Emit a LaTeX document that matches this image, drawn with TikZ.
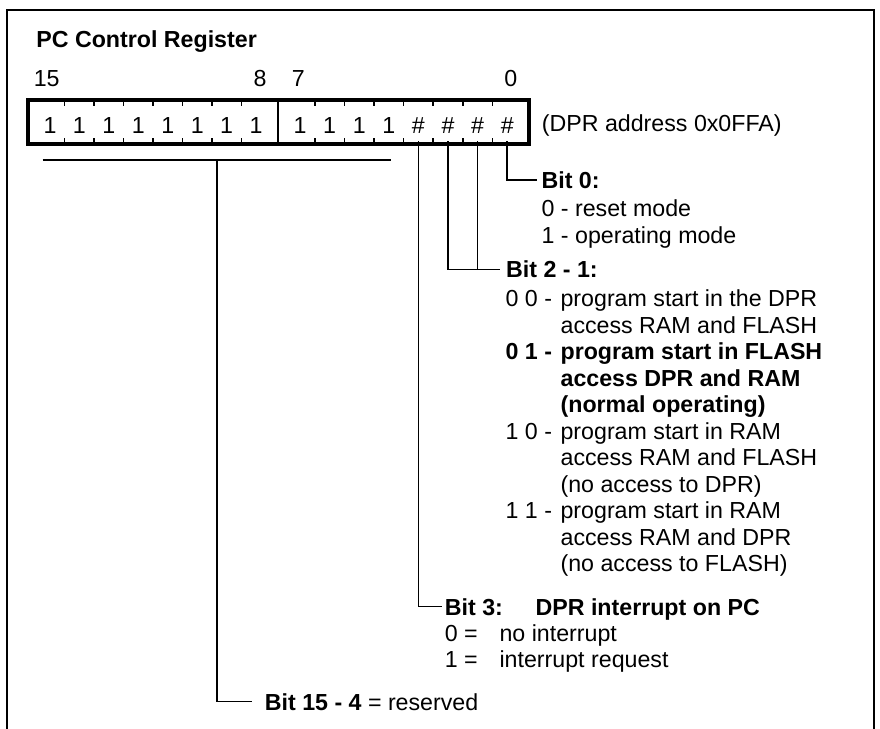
\documentclass[tikz,border=0pt]{standalone}
\usepackage{fontspec}
\setmainfont{Liberation Sans}
\usetikzlibrary{calc,fit}
\newcommand\regfont{\fontsize{11.6pt}{13.25pt}\selectfont}

\begin{document}
\begin{tikzpicture}[x=0.5pt, y=-0.5pt, font=\regfont,
    frameline/.style={line width=1pt},
    regbox/.style={draw, line width=2pt, inner xsep=3.3pt, inner ysep=1.1pt},
    bitcell/.style={inner sep=0pt, minimum width=14.75pt, minimum height=19pt, text height=12pt, text depth=1pt},
    bitnum/.style={inner sep=0pt},
    tick/.style={line width=0.75pt},
    leader/.style={line width=0.75pt},
    head/.style={inner sep=0pt, anchor=base west, font=\regfont\bfseries},
    note/.style={inner sep=0pt, anchor=base west}]

    % Fix the canvas
    \useasboundingbox (0,0) rectangle (880,729);

    % Draw open frame
    \draw[frameline] (7.3,729) -- (7.3,10) -- (874,10) -- (874,729);

    % Title
    \node[head] (title) at (36,47) {PC Control Register};

    % Register cells, bit 15 on the left
    \foreach \b in {15,...,8}
        \node[bitcell] (c\b) at ({50+29.45*(15-\b)},122) {1};
    \foreach \b in {7,...,4}
        \node[bitcell] (c\b) at ({300+29.6*(7-\b)},122) {1};
    \foreach \b in {3,...,0}
        \node[bitcell] (c\b) at ({300+29.6*(7-\b)},122) {\#};
    \node[regbox, fit=(c15)(c0)] (reg) {};

    % Ticks between the cells
    \foreach \b/\n in {15/14,14/13,13/12,12/11,11/10,10/9,9/8,7/6,6/5,5/4,4/3,3/2,2/1,1/0} {
        \coordinate (t) at ($(c\b)!0.5!(c\n)$);
        \draw[tick] (t |- reg.north) -- ++(0,8);
        \draw[tick] (t |- reg.south) -- ++(0,-8);
    }
    \coordinate (mid) at ($(c8)!0.5!(c7)$);
    \draw[tick] (mid |- reg.north) -- (mid |- reg.south);

    % Bit numbers and address
    \node[bitnum] (n15) at (46.7,78.3) {15};
    \node[bitnum] (n8) at (260,78.3) {8};
    \node[bitnum] (n7) at (298.3,78.3) {7};
    \node[bitnum] (n0) at (510.7,78.3) {0};
    \node[note] (addr) at (541.5,131.6) {(DPR address 0x0FFA)};

    % Bit 0
    \node[head] (b0) at (541.2,188.3) {Bit 0:};
    \node[note] (b0txt) at (541.2,216.6) {%
        \begin{tabular}[t]{@{}l@{}}
        0 - reset mode\\
        1 - operating mode
        \end{tabular}};
    \draw[leader, shorten >=2.25pt] (c0.south) |- (b0.west);

    % Bit 2 - 1
    \node[head] (b21) at (505.8,277.6) {Bit 2 - 1:};
    \node[note] (b21txt) at (505.2,306.6) {%
        \begin{tabular}[t]{@{}p{27.5pt}@{}l@{}}
        0 0 - & program start in the DPR\\
              & access RAM and FLASH\\
        \textbf{0 1 -} & \textbf{program start in FLASH}\\
              & \textbf{access DPR and RAM}\\
              & \textbf{(normal operating)}\\
        1 0 - & program start in RAM\\
              & access RAM and FLASH\\
              & (no access to DPR)\\
        1 1 - & program start in RAM\\
              & access RAM and DPR\\
              & (no access to FLASH)
        \end{tabular}};
    \draw[leader, shorten >=2.9pt] (c2.south) |- (b21.west);
    \draw[leader, shorten >=2.9pt] (c1.south) |- (b21.west);

    % Bit 3
    \node[head] (b3) at (444.5,615) {Bit 3:};
    \node[head] (b3name) at (535.2,615) {DPR interrupt on PC};
    \node[note] (b3txt) at (444.5,641) {%
        \begin{tabular}[t]{@{}p{27.35pt}@{}l@{}}
        0 = & no interrupt\\
        1 = & interrupt request
        \end{tabular}};
    \draw[leader, shorten >=1.4pt] (c3.south) |- (b3.west);

    % Bit 15 - 4
    \coordinate (barL) at (42.7,160);
    \coordinate (barR) at (391,160);
    \draw[leader] (barL) -- (barR);
    \node[note] (b154) at (264.5,710) {\textbf{Bit 15 - 4} = reserved};
    \draw[leader, shorten >=6.4pt] ($(barL)!0.5!(barR)$) |- (b154.west);

\end{tikzpicture}
\end{document}
